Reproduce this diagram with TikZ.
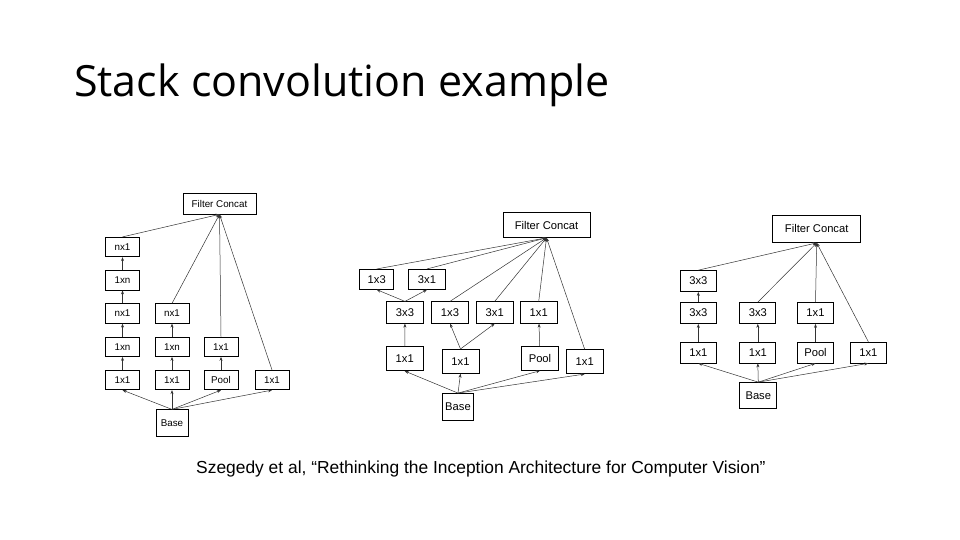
\documentclass[tikz,border=0pt]{standalone}
\usepackage{fontspec}
\setmainfont{Liberation Sans}
\newfontfamily\titlefont{Open Sans}
\usetikzlibrary{positioning}
\usetikzlibrary{arrows.meta}

\tikzset{
  blk/.style={draw, line width=0.7pt, inner sep=0pt, minimum width=34pt, minimum height=19.5pt, font=\fontsize{9.8}{9.8}\selectfont},
  lnk/.style={-{Stealth[length=4pt,width=3pt]}, line width=0.5pt, draw=black!80},
}

\begin{document}
\begin{tikzpicture}[x=1pt,y=-1pt]
  \useasboundingbox (0,0) rectangle (960,540);

  % title and caption
  \node[anchor=base west, inner sep=0pt, font=\titlefont\fontsize{43}{43}\selectfont] (title) at (74,97) {Stack convolution example};
  \node[anchor=base west, inner sep=0pt, font=\fontsize{17.4}{17.4}\selectfont] (cap) at (196,473.5) {Szegedy et al, “Rethinking the Inception Architecture for Computer Vision”};

  % first module: stacked 1xn / nx1
  \node[blk, minimum width=73pt, minimum height=21pt] (fc1) at (219.5,203.5) {Filter Concat};
  \node[blk, minimum width=32pt, minimum height=26.5pt] (base1) at (172,423) {Base};
  \foreach \t [count=\i] in {1x1,1xn,nx1,1xn,nx1}
    \node[blk] (a\i) at (122.5,{380-33.25*(\i-1)}) {\t};
  \foreach \t [count=\i] in {1x1,1xn,nx1}
    \node[blk] (b\i) at (172,{380-33.25*(\i-1)}) {\t};
  \node[blk] (c1) at (221,380) {Pool};
  \node[blk] (c2) at (221,346.75) {1x1};
  \node[blk] (d1) at (272,380) {1x1};

  \foreach \n in {a1,b1,c1,d1} \draw[lnk] (base1.north) -- (\n.south);
  \foreach \u/\v in {a1/a2,a2/a3,a3/a4,a4/a5,b1/b2,b2/b3,c1/c2} \draw[lnk] (\u) -- (\v);
  \foreach \n in {a5,b3,c2,d1} \draw[lnk] (\n.north) -- (fc1.south);

  % second module: split 1x3 / 3x1
  \begin{scope}[blk/.append style={minimum width=37pt, minimum height=21.5pt, font=\fontsize{11.2}{11.2}\selectfont}]
    \node[blk, minimum width=87pt, minimum height=25pt] (fc2) at (546.5,225) {Filter Concat};
    \node[blk, minimum width=31pt, minimum height=26.5pt] (base2) at (458,406.7) {Base};
    \node[blk, minimum width=34pt, minimum height=20pt] (e1) at (376.7,279.3) {1x3};
    \node[blk, minimum height=20pt] (e2) at (427,279.3) {3x1};
    \node[blk] (f1) at (405,312.5) {3x3};
    \node[blk] (f2) at (450,312.5) {1x3};
    \node[blk] (f3) at (494.7,312.5) {3x1};
    \node[blk] (f4) at (538.7,312.5) {1x1};
    \node[blk, minimum height=24pt] (g1) at (404.7,358.7) {1x1};
    \node[blk, minimum height=24pt] (g2) at (460.5,361.3) {1x1};
    \node[blk, minimum height=24pt] (g3) at (540,358.4) {Pool};
    \node[blk, minimum height=24pt] (g4) at (584.7,361.7) {1x1};
  \end{scope}

  \foreach \n in {g1,g2,g3,g4} \draw[lnk] (base2.north) -- (\n.south);
  \draw[lnk] (g1) -- (f1);
  \draw[lnk] (g3) -- (f4);
  \foreach \n in {f2,f3} \draw[lnk] (g2.north) -- (\n.south);
  \foreach \n in {e1,e2} \draw[lnk] (f1.north) -- (\n.south);
  \foreach \n in {e1,e2,f2,f3,f4,g4} \draw[lnk] (\n.north) -- (fc2.south);

  % third module: two 3x3
  \begin{scope}[blk/.append style={minimum width=36pt, minimum height=21pt, font=\fontsize{11.2}{11.2}\selectfont}]
    \node[blk, minimum width=88pt, minimum height=27.5pt] (fc3) at (816.7,228.8) {Filter Concat};
    \node[blk, minimum width=37pt, minimum height=26pt] (base3) at (758.3,395.5) {Base};
    \node[blk] (h1) at (698.3,352.5) {1x1};
    \node[blk] (h2) at (698.3,313) {3x3};
    \node[blk] (h3) at (698.3,281) {3x3};
    \node[blk] (i1) at (757.8,352.5) {1x1};
    \node[blk] (i2) at (757.8,313) {3x3};
    \node[blk] (j1) at (815.5,352.5) {Pool};
    \node[blk] (j2) at (815.5,313) {1x1};
    \node[blk] (k1) at (868.3,352.5) {1x1};
  \end{scope}

  \foreach \n in {h1,i1,j1,k1} \draw[lnk] (base3.north) -- (\n.south);
  \foreach \u/\v in {h1/h2,h2/h3,i1/i2,j1/j2} \draw[lnk] (\u) -- (\v);
  \foreach \n in {h3,i2,j2,k1} \draw[lnk] (\n.north) -- (fc3.south);
\end{tikzpicture}
\end{document}
